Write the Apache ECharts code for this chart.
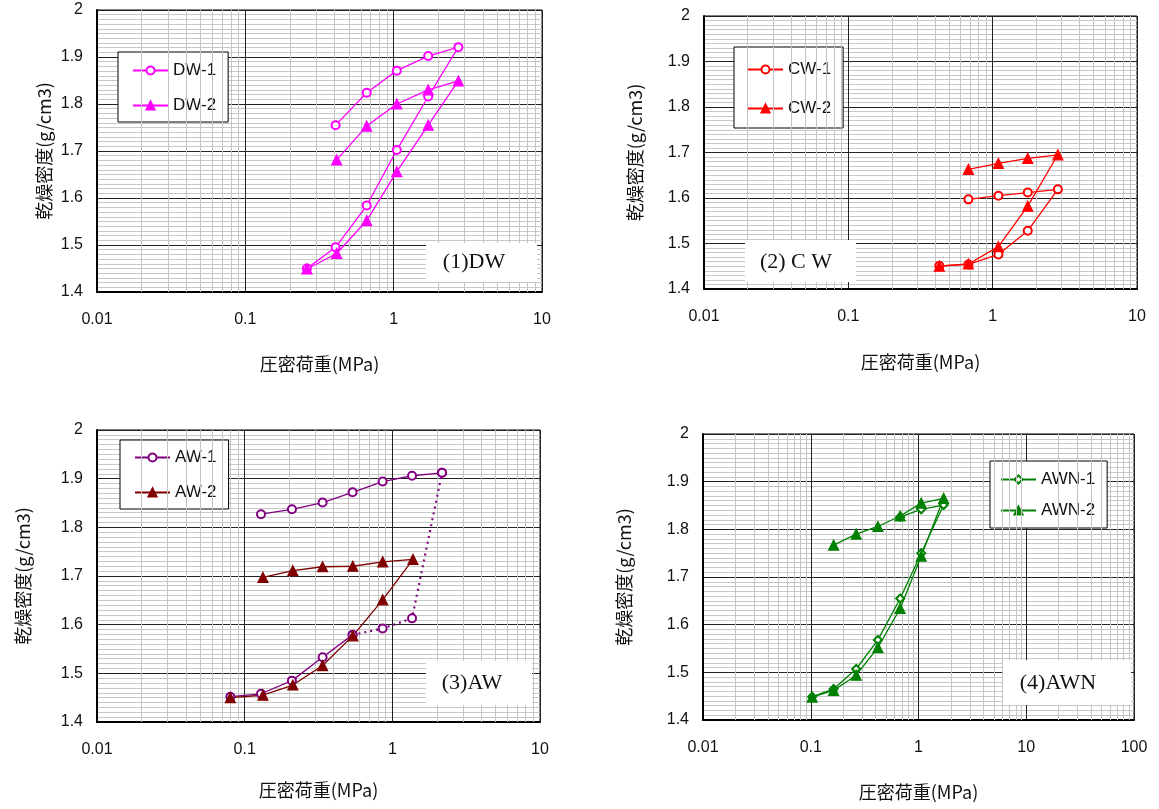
<!DOCTYPE html>
<html><head><meta charset="utf-8">
<script src="https://cdn.jsdelivr.net/npm/echarts@6/dist/echarts.min.js"></script>
<style>html,body{margin:0;padding:0;background:#fff}#c{width:1159px;height:809px}</style>
</head><body><div id="c"></div>
<script>
// ---------- data ----------
const dw1X = [0.26, 0.406, 0.658, 1.05, 1.71, 2.73, 1.71, 1.05, 0.658, 0.406];
const dw1Y = [1.450, 1.495, 1.584, 1.702, 1.816, 1.921, 1.902, 1.871, 1.824, 1.755];
const dw2X = [0.26, 0.413, 0.658, 1.05, 1.71, 2.73, 1.71, 1.05, 0.658, 0.413];
const dw2Y = [1.449, 1.482, 1.552, 1.656, 1.755, 1.849, 1.830, 1.800, 1.753, 1.681];

const cw1X = [0.427, 0.679, 1.096, 1.75, 2.83, 1.75, 1.096, 0.679];
const cw1Y = [1.451, 1.454, 1.476, 1.528, 1.619, 1.612, 1.605, 1.597];
const cw2X = [0.427, 0.679, 1.096, 1.75, 2.83, 1.75, 1.096, 0.679];
const cw2Y = [1.450, 1.455, 1.493, 1.582, 1.695, 1.687, 1.676, 1.663];

const aw1LoadX = [0.08, 0.129, 0.209, 0.337, 0.538];
const aw1LoadY = [1.452, 1.458, 1.485, 1.533, 1.579];
const aw1DotX = [0.538, 0.859, 1.36, 2.17];
const aw1DotY = [1.579, 1.592, 1.613, 1.912];
const aw1UnloadX = [2.17, 1.36, 0.859, 0.538, 0.337, 0.209, 0.129];
const aw1UnloadY = [1.912, 1.906, 1.894, 1.872, 1.851, 1.837, 1.827];
const aw2X = [0.08, 0.133, 0.212, 0.337, 0.54, 0.86, 1.38, 0.86, 0.54, 0.337, 0.212, 0.133];
const aw2Y = [1.450, 1.455, 1.476, 1.516, 1.577, 1.651, 1.734, 1.729, 1.720, 1.719, 1.711, 1.697];

const awn1X = [0.103, 0.163, 0.264, 0.42, 0.676, 1.06, 1.71, 1.06, 0.676];
const awn1Y = [1.449, 1.465, 1.507, 1.568, 1.655, 1.750, 1.851, 1.842, 1.826];
const awn2X = [0.103, 0.163, 0.264, 0.42, 0.676, 1.06, 1.71, 1.06, 0.676, 0.42, 0.264, 0.163];
const awn2Y = [1.448, 1.462, 1.494, 1.552, 1.634, 1.744, 1.865, 1.855, 1.828, 1.806, 1.790, 1.767];

const panelLabels = ['(1)DW', '(2) C W', '(3)AW', '(4)AWN'];
const yName = '乾燥密度(g/cm3)';
const xName = '圧密荷重(MPa)';
const yMin = 1.4, yMax = 2.0, yStep = 0.1;
const xMaxes = [10, 10, 10, 100];
const minorMult = [2, 3, 4, 5, 6, 7, 8, 9];

// ---------- helpers ----------
const zip = (xs, ys) => xs.map((x, i) => [x, ys[i]]);
function minorX(max) {
  const out = [];
  for (let d = 0.01; d < max * 0.99; d *= 10) {
    minorMult.forEach(m => out.push({ xAxis: +(d * m).toPrecision(3) }));
  }
  return out;
}

const grids = [
  { left: 97, top: 10, width: 445, height: 282 },
  { left: 704, top: 16, width: 433, height: 273 },
  { left: 97, top: 430, width: 443, height: 292 },
  { left: 703, top: 434, width: 431, height: 286 }
];
const xNameGap = [63, 64, 59, 63];
const yNameGap = [44, 60, 65, 70];

const xAxes = grids.map((g, i) => ({
  type: 'log', logBase: 10, gridIndex: i, min: 0.01, max: xMaxes[i],
  name: xName, nameLocation: 'middle', nameGap: xNameGap[i],
  nameTextStyle: { fontFamily: 'Noto Sans CJK JP', fontSize: 18, color: '#111' },
  axisLine: { show: true, onZero: false, lineStyle: { color: '#000', width: 2 } },
  axisTick: { show: false },
  axisLabel: { margin: 20, fontFamily: 'Liberation Sans', fontSize: 16, color: '#111',
    formatter: v => String(+(+v).toPrecision(2)) },
  splitLine: { show: true, lineStyle: { color: '#222', width: 1 } },
  minorSplitLine: { show: false }
}));
const yAxes = grids.map((g, i) => ({
  type: 'value', gridIndex: i, min: yMin, max: yMax, interval: yStep,
  name: yName, nameLocation: 'middle', nameGap: yNameGap[i],
  nameTextStyle: { fontFamily: 'Noto Sans CJK JP', fontSize: 18, color: '#111' },
  axisLine: { show: true, onZero: false, lineStyle: { color: '#000', width: 2 } },
  axisTick: { show: false },
  axisLabel: { margin: 14, fontFamily: 'Liberation Sans', fontSize: 16, color: '#111',
    formatter: v => String(Math.round(v * 10) / 10) },
  splitLine: { show: true, lineStyle: { color: '#222', width: 1 } },
  minorTick: { show: false, splitNumber: 10 },
  minorSplitLine: { show: true, lineStyle: { color: '#c8c8c8', width: 1 } }
}));

const series = [];
grids.forEach((g, i) => {
  series.push({
    type: 'line', xAxisIndex: i, yAxisIndex: i, data: [], silent: true, z: 1,
    markLine: { silent: true, symbol: ['none', 'none'], label: { show: false },
      lineStyle: { color: '#c4c4c4', type: 'solid', width: 1 }, animation: false,
      data: minorX(xMaxes[i]) }
  });
});

function lineSeries(name, idx, xs, ys, color, symbol, size, extra) {
  const s = {
    name, type: 'line', xAxisIndex: idx, yAxisIndex: idx, data: zip(xs, ys),
    symbol, symbolSize: size, showSymbol: true, z: 5,
    lineStyle: { color, width: 1.3 },
    itemStyle: { color, borderColor: color, borderWidth: 1.2 },
    animation: false
  };
  return Object.assign(s, extra || {});
}

series.push(lineSeries('DW-1', 0, dw1X, dw1Y, '#ff00ff', 'emptyCircle', 8));
series.push(lineSeries('DW-2', 0, dw2X, dw2Y, '#ff00ff', 'triangle', 10));
series.push(lineSeries('CW-1', 1, cw1X, cw1Y, '#ff0000', 'emptyCircle', 8));
series.push(lineSeries('CW-2', 1, cw2X, cw2Y, '#ff0000', 'triangle', 10));
series.push(lineSeries('AW-1', 2, aw1LoadX, aw1LoadY, '#800080', 'emptyCircle', 8));
series.push(lineSeries('AW-1 (dotted part)', 2, aw1DotX, aw1DotY, '#800080', 'emptyCircle', 8,
  { lineStyle: { color: '#800080', width: 2.2, type: [2, 4] } }));
series.push(lineSeries('AW-1 (unloading)', 2, aw1UnloadX, aw1UnloadY, '#800080', 'emptyCircle', 8));
series.push(lineSeries('AW-2', 2, aw2X, aw2Y, '#800000', 'triangle', 10));
series.push(lineSeries('AWN-1', 3, awn1X, awn1Y, '#008000', 'emptyDiamond', 8));
series.push(lineSeries('AWN-2', 3, awn2X, awn2Y, '#008000', 'triangle', 10));

const legendBase = {
  orient: 'vertical', backgroundColor: '#fff', borderColor: '#000', borderWidth: 1,
  itemWidth: 35, itemHeight: 10, itemGap: 18, borderRadius: 0,
  textStyle: { fontFamily: 'Liberation Sans', fontSize: 17, color: '#111' },
  padding: [10, 12, 8, 14], selectedMode: false
};
const legends = [
  Object.assign({}, legendBase, { left: 118, top: 52, data: ['DW-1', 'DW-2'] }),
  Object.assign({}, legendBase, { left: 734, top: 47, data: ['CW-1', 'CW-2'], itemGap: 22, padding: [14, 12, 11, 13] }),
  Object.assign({}, legendBase, { left: 120, top: 440, data: ['AW-1', 'AW-2'], padding: [9, 12, 8, 14] }),
  Object.assign({}, legendBase, { left: 990, top: 461, data: ['AWN-1', 'AWN-2'], itemGap: 14, padding: [10, 12, 9, 10] })
];

const boxes = [
  { x: 426, y: 243, w: 111, h: 39, tx: 474, ty: 262 },
  { x: 745, y: 240, w: 111, h: 42, tx: 796, ty: 262 },
  { x: 426, y: 661, w: 106, h: 44, tx: 472, ty: 683 },
  { x: 1003, y: 660, w: 128, h: 45, tx: 1058, ty: 683 }
];
const graphic = [];
boxes.forEach((b, i) => {
  graphic.push({ type: 'rect', z: 50, shape: { x: b.x, y: b.y, width: b.w, height: b.h },
    style: { fill: '#fff' } });
  graphic.push({ type: 'text', z: 51, x: b.tx, y: b.ty,
    style: { text: panelLabels[i], fill: '#111', font: '22px "Liberation Serif"',
      textAlign: 'center', textVerticalAlign: 'middle' } });
});

const chart = echarts.init(document.getElementById('c'), null, { renderer: 'canvas' });
chart.setOption({
  animation: false,
  backgroundColor: '#fff',
  grid: grids.map(g => Object.assign({ show: true, borderColor: '#000', borderWidth: 1, containLabel: false }, g)),
  xAxis: xAxes, yAxis: yAxes, legend: legends, series, graphic
});
</script></body></html>
